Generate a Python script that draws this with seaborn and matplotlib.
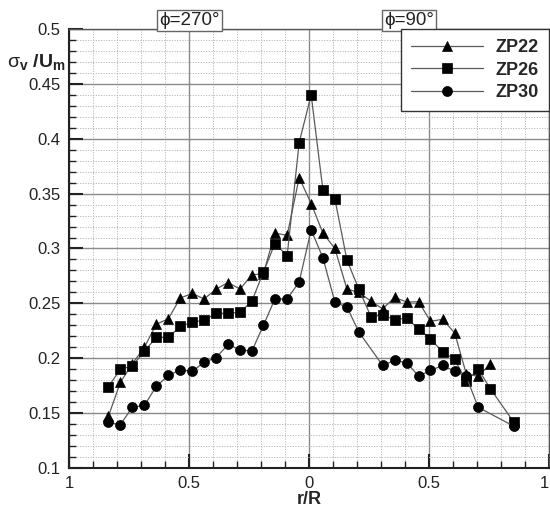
import matplotlib
matplotlib.use("Agg")
import matplotlib.pyplot as plt
import seaborn as sns
import pandas as pd
from matplotlib.ticker import MultipleLocator, FixedLocator, FixedFormatter

# ---------------- data ----------------
r_zp22 = [-0.836, -0.786, -0.736, -0.686, -0.636, -0.586, -0.536, -0.486, -0.437, -0.387,
          -0.337, -0.287, -0.238, -0.190, -0.142, -0.091, -0.041, 0.009, 0.058, 0.108,
          0.158, 0.208, 0.258, 0.307, 0.357, 0.407, 0.457, 0.506, 0.557, 0.607,
          0.655, 0.705, 0.756]
zp22 = [0.147, 0.178, 0.195, 0.210, 0.231, 0.236, 0.255, 0.259, 0.254, 0.263,
        0.269, 0.263, 0.276, 0.277, 0.314, 0.312, 0.3645, 0.341, 0.314, 0.300,
        0.263, 0.260, 0.252, 0.245, 0.2555, 0.2512, 0.2515, 0.2336, 0.2355, 0.223,
        0.186, 0.1834, 0.195]

r_zp26 = [-0.836, -0.786, -0.736, -0.686, -0.636, -0.586, -0.536, -0.486, -0.437, -0.387,
          -0.337, -0.287, -0.238, -0.190, -0.142, -0.091, -0.041, 0.009, 0.058, 0.108,
          0.158, 0.208, 0.258, 0.307, 0.357, 0.407, 0.457, 0.506, 0.557, 0.607,
          0.655, 0.705, 0.756, 0.854]
zp26 = [0.174, 0.190, 0.193, 0.2065, 0.219, 0.219, 0.229, 0.233, 0.2345, 0.241,
        0.241, 0.2418, 0.252, 0.2785, 0.3045, 0.2935, 0.3965, 0.440, 0.3532, 0.345,
        0.2895, 0.2627, 0.238, 0.2395, 0.235, 0.2366, 0.2266, 0.2178, 0.2056, 0.199,
        0.179, 0.190, 0.1722, 0.1415]

r_zp30 = [-0.836, -0.786, -0.736, -0.686, -0.636, -0.586, -0.536, -0.486, -0.437, -0.387,
          -0.337, -0.287, -0.238, -0.190, -0.142, -0.091, -0.041, 0.009, 0.058, 0.108,
          0.158, 0.208, 0.307, 0.357, 0.407, 0.457, 0.506, 0.557, 0.607, 0.655,
          0.705, 0.854]
zp30 = [0.1416, 0.1395, 0.1554, 0.157, 0.1745, 0.1843, 0.1895, 0.188, 0.1964, 0.2005,
        0.2126, 0.2077, 0.2065, 0.230, 0.254, 0.254, 0.2695, 0.317, 0.2915, 0.251,
        0.2467, 0.2238, 0.1934, 0.198, 0.196, 0.1837, 0.1889, 0.1934, 0.1882, 0.1834,
        0.1553, 0.138]

series_names = ["ZP22", "ZP26", "ZP30"]
series_markers = ["^", "s", "o"]

xtick_values = [-1, -0.5, 0, 0.5, 1]
xtick_labels = ["1", "0.5", "0", "0.5", "1"]
ytick_values = [0.1, 0.15, 0.2, 0.25, 0.3, 0.35, 0.4, 0.45, 0.5]
ytick_labels = ["0.1", "0.15", "0.2", "0.25", "0.3", "0.35", "0.4", "0.45", "0.5"]
phi_labels = ["\u03d5=270\u00b0", "\u03d5=90\u00b0"]
phi_positions = [-0.5, 0.417]

# ---------------- style ----------------
sns.set_theme(style="white")
plt.rcParams["font.family"] = ["Liberation Sans", "DejaVu Sans"]
plt.rcParams["mathtext.fontset"] = "custom"
plt.rcParams["mathtext.rm"] = "Liberation Sans"
plt.rcParams["mathtext.it"] = "Liberation Sans:italic"
plt.rcParams["mathtext.bf"] = "Liberation Sans:bold"

fig = plt.figure(figsize=(5.5, 5.11), dpi=100)
ax = fig.add_axes([69 / 550, 43 / 511, 480 / 550, 439 / 511])

df = pd.concat([
    pd.DataFrame({"r": r_zp22, "v": zp22, "s": "ZP22"}),
    pd.DataFrame({"r": r_zp26, "v": zp26, "s": "ZP26"}),
    pd.DataFrame({"r": r_zp30, "v": zp30, "s": "ZP30"}),
])

ms = {"^": 7.5, "s": 6.6, "o": 7.2}
for name, mk in zip(series_names, series_markers):
    sub = df[df["s"] == name]
    sns.lineplot(data=sub, x="r", y="v", ax=ax, estimator=None, sort=True,
                 color="#5a5a5a", lw=0.9, marker=mk, markersize=ms[mk],
                 markerfacecolor="black", markeredgecolor="black",
                 markeredgewidth=0.5, label=name, legend=False)

ax.set_xlim(-1, 1)
ax.set_ylim(0.1, 0.5)

ax.xaxis.set_major_locator(FixedLocator(xtick_values))
ax.xaxis.set_major_formatter(FixedFormatter(xtick_labels))
ax.xaxis.set_minor_locator(MultipleLocator(0.1))
ax.yaxis.set_major_locator(FixedLocator(ytick_values))
ax.yaxis.set_major_formatter(FixedFormatter(ytick_labels))
ax.yaxis.set_minor_locator(MultipleLocator(0.01))

ax.grid(True, which="major", color="#8a8a8a", lw=1.0, ls="-")
ax.grid(True, which="minor", color="#b8b8b8", lw=0.7, ls=(0, (1.2, 1.5)))
ax.set_axisbelow(True)

ax.tick_params(which="major", direction="in", length=10, width=1.5, color="#222222",
               labelsize=12, labelcolor="#222222", bottom=True, left=True,
               top=False, right=False, pad=6)
ax.tick_params(which="minor", direction="in", length=5, width=1.0, color="#222222",
               bottom=True, left=True, top=False, right=False)

# keep the last x tick label inside the figure
fig.canvas.draw()
ax.get_xticklabels()[-1].set_horizontalalignment("right")

for side in ["left", "bottom"]:
    ax.spines[side].set_color("#222222")
    ax.spines[side].set_linewidth(1.5)
for side in ["top", "right"]:
    ax.spines[side].set_color("#555555")
    ax.spines[side].set_linewidth(1.0)

ax.set_xlabel("r/R", fontsize=13, fontweight="bold", labelpad=0)
ax.set_ylabel("")
fig.text(36 / 550, 1 - 62 / 511, r"$\mathrm{\sigma}_{\mathbf{v}}$ $\mathbf{/U_m}$",
         fontsize=14, ha="center", va="center", color="#222222")

for lab, pos in zip(phi_labels, phi_positions):
    ax.text(pos, 1.0, lab, transform=ax.get_xaxis_transform(), ha="center",
            va="bottom", fontsize=13.5, color="#222222",
            bbox=dict(boxstyle="square,pad=0.12", fc="white", ec="#666666", lw=1.0))

leg = ax.legend(loc="upper right", borderaxespad=0, fancybox=False, framealpha=1,
                edgecolor="#333333", handlelength=4.0, handletextpad=0.7,
                labelspacing=0.32, borderpad=0.55,
                prop={"weight": "bold", "size": 13})
leg.get_frame().set_linewidth(1.0)

fig.savefig("out.png", dpi=100)
